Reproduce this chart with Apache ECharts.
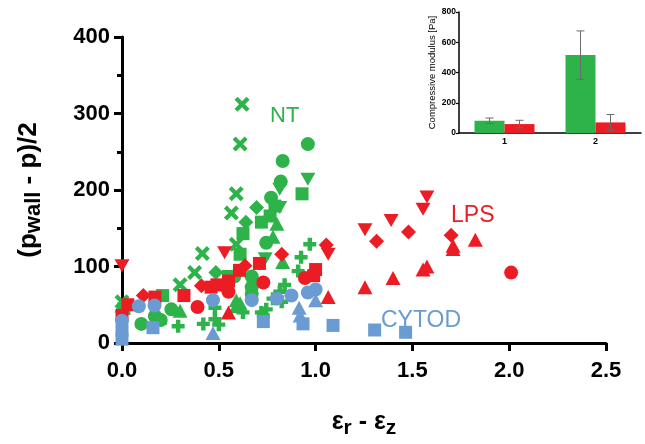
<!DOCTYPE html>
<html><head><meta charset="utf-8">
<script src="https://cdn.jsdelivr.net/npm/echarts@6/dist/echarts.min.js"></script>
<style>html,body{margin:0;padding:0;background:#fff}#c{width:645px;height:444px}</style>
</head><body><div id="c"></div>
<script>
// ---------- main scatter data: [strain difference, stress] ----------
const ntCross    = [[0.62,312],[0.61,260],[0.59,195],[0.565,170],[0.59,129],[0.415,117],[0.375,92],[0.30,76],[0.0,54]];
const ntCircle   = [[0.96,260],[0.83,238],[0.82,211],[0.77,190],[0.745,131],[0.67,87],[0.67,73],[0.67,64],[0.58,87],[0.255,44],[0.10,25],[0.17,35],[0.20,30]];
const ntSquare   = [[0.93,195],[0.79,179],[0.765,166],[0.72,158],[0.625,143],[0.61,116],[0.55,87],[0.21,62],[0.01,45]];
const ntTriDown  = [[0.96,214],[0.815,201],[0.815,177],[0.74,110]];
const ntTriangle = [[0.80,156],[0.78,139],[0.83,106],[0.59,56],[0.59,48],[0.61,52],[0.195,33],[0.30,42],[0.0,49]];
const ntDiamond  = [[0.695,177],[0.64,158],[0.485,92]];
const ntPlus     = [[0.97,129],[0.925,112],[0.91,94],[0.84,76],[0.815,67],[0.78,58],[0.825,54],[0.745,44],[0.73,36],[0.72,40],[0.625,40],[0.48,46],[0.48,31],[0.42,25],[0.29,22],[0.50,24]];

const lpsTriDown  = [[0.0,101],[0.53,118],[1.065,116],[1.255,148],[1.39,160],[1.555,175],[1.575,191]];
const lpsDiamond  = [[0.11,62],[0.41,75],[0.635,101],[0.825,116],[1.055,128],[1.315,133],[1.48,145],[1.70,141]];
const lpsSquare   = [[0.03,50],[0.0,36],[0.17,60],[0.32,62],[0.46,73],[0.49,76],[0.55,81],[0.607,95],[0.71,104],[1.0,96],[0.99,88]];
const lpsCircle   = [[0.39,47],[0.55,67],[0.73,79],[0.945,85],[2.01,92],[0.54,73]];
const lpsTriangle = [[0.55,40],[1.065,60],[1.255,73],[1.40,85],[1.555,96],[1.575,100],[1.71,123],[1.71,127],[1.825,135]];

const cytSquare   = [[0.0,5],[0.0,17],[0.16,20],[0.73,28],[0.935,25],[1.09,23],[1.305,17],[1.465,14]];
const cytCircle   = [[0.0,29],[0.087,48],[0.168,49],[0.47,56],[0.67,56],[0.80,58],[0.875,62],[0.96,66],[1.0,70]];
const cytTriangle = [[0.47,13],[0.915,46],[0.92,36],[1.0,56]];

const groupNames = ['NT','LPS','CYTOD'];

// ---------- inset bar data ----------
const insetCats   = ['1','2'];
const insetNT     = [81, 515];
const insetNTErr  = [18, 160];
const insetLPS    = [59, 70];
const insetLPSErr = [25, 52];

// ---------- styling ----------
const GREEN = '#2db34a', RED = '#ec1c24', BLUE = '#6a9bd2';
const FONT = 'Liberation Sans, Arial, sans-serif';
const SYM = {
  circle: ['circle', 14],
  square: ['rect', 13],
  triangle: ['triangle', [15, 14]],
  triDown: ['path://M0,0L10,0L5,9Z', [15, 13]],
  diamond: ['diamond', [15, 15]],
  cross: ['path://M2,0L5,3L8,0L10,2L7,5L10,8L8,10L5,7L2,10L0,8L3,5L0,2Z', 15],
  plus: ['path://M3.3,0H6.7V3.3H10V6.7H6.7V10H3.3V6.7H0V3.3H3.3Z', 13]
};
function sc(data, shape, color) {
  return { type: 'scatter', xAxisIndex: 0, yAxisIndex: 0, data: data,
    symbol: SYM[shape][0], symbolSize: SYM[shape][1],
    itemStyle: { color: color, opacity: 1 }, silent: true, animation: false };
}
const series = [
  sc(ntCross,'cross',GREEN), sc(ntCircle,'circle',GREEN), sc(ntSquare,'square',GREEN),
  sc(ntTriDown,'triDown',GREEN), sc(ntTriangle,'triangle',GREEN), sc(ntDiamond,'diamond',GREEN), sc(ntPlus,'plus',GREEN),
  sc(lpsTriDown,'triDown',RED), sc(lpsDiamond,'diamond',RED), sc(lpsSquare,'square',RED),
  sc(lpsCircle,'circle',RED), sc(lpsTriangle,'triangle',RED),
  sc(cytSquare,'square',BLUE), sc(cytCircle,'circle',BLUE), sc(cytTriangle,'triangle',BLUE)
];

// inset bars
series.push({ type: 'bar', xAxisIndex: 1, yAxisIndex: 1, data: insetNT, barWidth: 30, barGap: '0%',
  itemStyle: { color: GREEN }, animation: false });
series.push({ type: 'bar', xAxisIndex: 1, yAxisIndex: 1, data: insetLPS, barWidth: 30, barGap: '0%',
  itemStyle: { color: RED }, animation: false });
const errData = [];
insetCats.forEach((c, i) => {
  errData.push([i, insetNT[i], insetNTErr[i], -1]);
  errData.push([i, insetLPS[i], insetLPSErr[i], 1]);
});
series.push({ type: 'custom', xAxisIndex: 1, yAxisIndex: 1, data: errData, animation: false, z: 5,
  encode: { x: 0, y: 1 },
  renderItem: function (params, api) {
    const i = api.value(0), v = api.value(1), e = api.value(2), s = api.value(3);
    const c = api.coord([i, v]), hi = api.coord([i, v + e]), lo = api.coord([i, v - e]);
    const x = c[0] + s * 15;
    const st = { stroke: '#6b6b6b', lineWidth: 1 };
    return { type: 'group', children: [
      { type: 'line', shape: { x1: x, y1: hi[1], x2: x, y2: lo[1] }, style: st },
      { type: 'line', shape: { x1: x - 4, y1: hi[1], x2: x + 4, y2: hi[1] }, style: st },
      { type: 'line', shape: { x1: x - 4, y1: lo[1], x2: x + 4, y2: lo[1] }, style: st }
    ]};
  }
});

const option = {
  backgroundColor: '#fff',
  animation: false,
  grid: [
    { left: 122, right: 39, top: 37, bottom: 85.5 },
    { left: 459, width: 182, top: 12, height: 121 }
  ],
  xAxis: [
    { type: 'value', gridIndex: 0, min: 0, max: 2.5, interval: 0.5,
      axisLine: { show: true, onZero: false, lineStyle: { color: '#000', width: 3 } },
      axisTick: { show: true, length: 8, lineStyle: { color: '#000', width: 3 } },
      splitLine: { show: false },
      axisLabel: { color: '#000', fontFamily: FONT, fontWeight: 'bold', fontSize: 22, margin: 17,
        formatter: v => v.toFixed(1) },
      name: '{a|ε}{b|r}{a| - ε}{b|z}', nameLocation: 'middle', nameGap: 67,
      nameTextStyle: { rich: {
        a: { fontFamily: FONT, fontWeight: 'bold', fontSize: 25, color: '#000', verticalAlign: 'top', lineHeight: 30 },
        b: { fontFamily: FONT, fontWeight: 'bold', fontSize: 21, color: '#000', verticalAlign: 'top', lineHeight: 30, padding: [8, 0, 0, 0] }
      } }
    },
    { type: 'category', gridIndex: 1, data: insetCats,
      axisLine: { lineStyle: { color: '#000', width: 1.5 } },
      axisTick: { alignWithLabel: true, length: 3, lineStyle: { color: '#000', width: 1.2 } },
      axisLabel: { color: '#000', fontFamily: FONT, fontWeight: 'bold', fontSize: 9, margin: 4 }
    }
  ],
  yAxis: [
    { type: 'value', gridIndex: 0, min: 0, max: 400, interval: 100,
      axisLine: { show: true, onZero: false, lineStyle: { color: '#000', width: 3 } },
      axisTick: { show: true, length: 8, lineStyle: { color: '#000', width: 3 } },
      minorTick: { show: true, splitNumber: 2, length: 5, lineStyle: { color: '#000', width: 3 } },
      splitLine: { show: false },
      axisLabel: { color: '#000', fontFamily: FONT, fontWeight: 'bold', fontSize: 22, margin: 12 },
      name: '{a|(p}{b|wall}{a| - p)/2}', nameLocation: 'middle', nameGap: 76, nameRotate: 90,
      nameTextStyle: { rich: {
        a: { fontFamily: FONT, fontWeight: 'bold', fontSize: 26, color: '#000', verticalAlign: 'top', lineHeight: 30 },
        b: { fontFamily: FONT, fontWeight: 'bold', fontSize: 22, color: '#000', verticalAlign: 'top', lineHeight: 30, padding: [7, 0, 0, 0] }
      } }
    },
    { type: 'value', gridIndex: 1, min: 0, max: 800, interval: 200,
      axisLine: { show: true, lineStyle: { color: '#000', width: 1.5 } },
      axisTick: { show: true, length: 3, lineStyle: { color: '#000', width: 1.2 } },
      splitLine: { show: false },
      axisLabel: { color: '#000', fontFamily: FONT, fontWeight: 'bold', fontSize: 8.5, margin: 3 },
      name: 'Compressive modulus [Pa]', nameLocation: 'middle', nameGap: 22, nameRotate: 90,
      nameTextStyle: { fontFamily: FONT, fontSize: 9.5, color: '#000' }
    }
  ],
  graphic: [
    { type: 'text', left: 270, top: 105, style: { text: groupNames[0], fill: GREEN, font: '22px ' + FONT } },
    { type: 'text', left: 451, top: 204, style: { text: groupNames[1], fill: RED, font: '23px ' + FONT } },
    { type: 'text', left: 381, top: 309, style: { text: groupNames[2], fill: BLUE, font: '23px ' + FONT } }
  ],
  series: series
};
const chart = echarts.init(document.getElementById('c'), null, { renderer: 'canvas' });
chart.setOption(option);
</script>
</body></html>
